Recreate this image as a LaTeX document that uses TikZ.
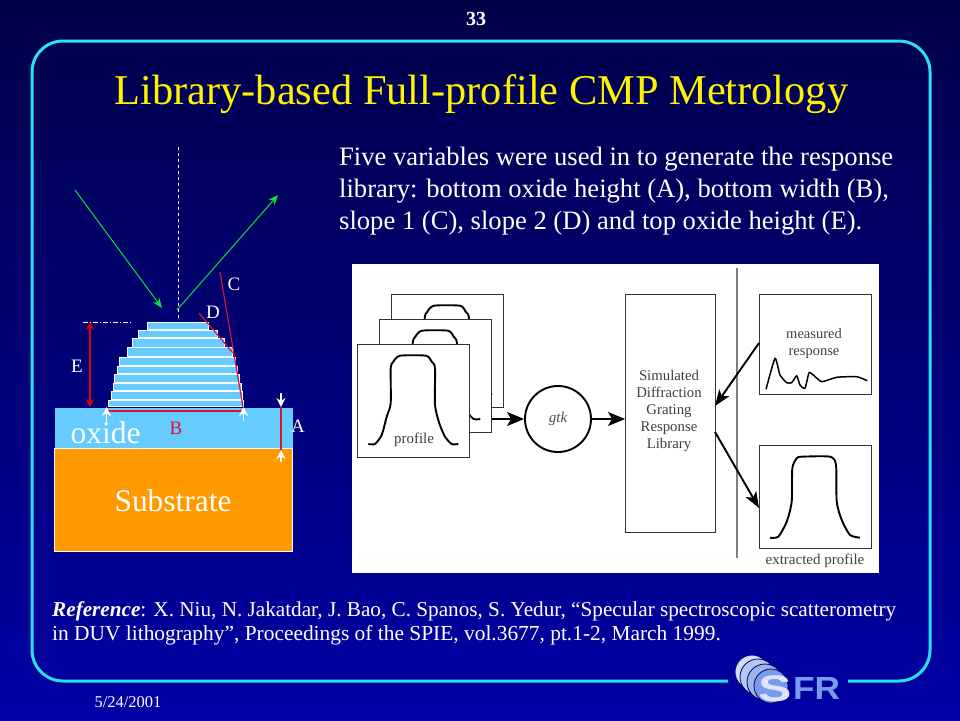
\documentclass[tikz,border=0pt]{standalone}
\usepackage{fontspec}
\setmainfont{Liberation Serif}
\newfontfamily\logofont{Liberation Sans}
\usetikzlibrary{arrows.meta}
\definecolor{framecyan}{RGB}{40,225,245}
\definecolor{oxideblue}{RGB}{102,204,255}
\definecolor{subsorange}{RGB}{255,153,0}
\definecolor{redline}{RGB}{215,20,60}
\definecolor{raygreen}{RGB}{0,230,60}
\definecolor{bgtop}{RGB}{0,0,72}
\definecolor{bgbottom}{RGB}{0,0,165}
\definecolor{logoblue}{RGB}{120,155,235}
\newcommand{\pxfont}[1]{\fontsize{#1}{#1}\selectfont}
\begin{document}
\begin{tikzpicture}
	[	x=1pt,y=-1pt,
	txt/.style={text=white,inner sep=0pt,anchor=base west,font=\pxfont{26.6}},
	lbl/.style={text=white,inner sep=0pt,font=\pxfont{19}},
	layer/.style={draw=white,fill=oxideblue,line width=1pt,inner sep=0pt,anchor=north west},
	redarrow/.style={draw=red!90!black,line width=1.2pt,{Stealth[length=8pt,width=8pt]}-{Stealth[length=8pt,width=8pt]}},
	redline/.style={draw=redline,line width=1.2pt},
	ray/.style={draw=raygreen,line width=1pt,-{Stealth[length=10pt,width=8pt]}},
	whitearrow/.style={draw=white,line width=1.3pt,-{Stealth[length=9pt,width=9pt]}},
	blackbox/.style={draw=black!80,line width=1.2pt,fill=white,inner sep=0pt,anchor=north west},
	flow/.style={draw=black,line width=1.4pt,-{Stealth[length=17pt,width=14pt,inset=4pt]}},
	slant/.style={draw=black,line width=1.9pt,-{Stealth[length=16pt,width=12pt,inset=4pt]}},
	curve/.style={draw=black,line width=1.9pt,line join=round},
	small/.style={text=black!75,inner sep=0pt,font=\pxfont{15}},
	logoring/.style={draw=bgbottom!60!black,line width=.8pt}
	]
	\useasboundingbox (0,0) rectangle (960,720);
	\shade[top color=bgtop,bottom color=bgbottom] (0,0) rectangle (960,720);

	% frame, open at the logo
	\draw[framecyan,line width=3pt,rounded corners=31pt]
		(728,681) -- (32,681) -- (32,41) -- (930,41) -- (930,681) -- (848,681);

	\node[font=\pxfont{20}\bfseries,text=white,inner sep=0pt] (pagenum) at (476,19) {33};
	\node[font=\pxfont{16.5},text=white,inner sep=0pt] (datelbl) at (128,702) {5/24/2001};
	\node[font=\pxfont{42.4},text=yellow,inner sep=0pt] (title) at (481.5,94) {Library-based Full-profile CMP Metrology};

	\node[txt] (para1) at (339,165) {Five variables were used in to generate the response};
	\node[txt] (para2) at (339,197) {library: bottom oxide height (A), bottom width (B),};
	\node[txt] (para3) at (339,229) {slope 1 (C), slope 2 (D) and top oxide height (E).};

	% left picture
	\node[layer,draw=none,minimum width=238pt,minimum height=41pt] (oxide) at (54.5,407) {};
	\node[layer,fill=subsorange,minimum width=238pt,minimum height=103pt] (subs) at (54,448) {};
	\node[text=white,inner sep=0pt,font=\pxfont{31.5}] (oxidelbl) at (105.5,433) {oxide};
	\node[text=white,inner sep=0pt,font=\pxfont{31.4}] (subslbl) at (173,501) {Substrate};

	\foreach \nm/\xa/\ya/\lw/\lh in {l1/146.5/322/61.5/7,l2/138/330/79/7,l3/132/338/92/9,l4/127/347/105/9,
		l5/119/357/116/8,l6/117/366/120/7,l7/114/374/125/8,l8/113/383/128/7,l9/111/391/131/8,l10/108/400/135/6}
		\node[layer,minimum width=\lw pt,minimum height=\lh pt] (\nm) at (\xa,\ya) {};

	\coordinate (rayin) at (75,190);
	\coordinate (rayinend) at (162,308);
	\coordinate (rayout) at (177,310);
	\coordinate (rayoutend) at (278,195);
	\draw[ray] (rayin) -- (rayinend);
	\draw[ray] (rayout) -- (rayoutend);

	\coordinate (normaltop) at (178.5,147);
	\coordinate (normalend) at (178.5,320);
	\draw[white,dashed,line width=.9pt] (normaltop) -- (normalend);
	\coordinate (toplevela) at (83,322);
	\coordinate (toplevelb) at (132,322);
	\draw[white,dash pattern=on 5pt off 2pt on 1pt off 2pt,line width=.9pt] (toplevela) -- (toplevelb);

	\coordinate (etop) at (90,322);
	\coordinate (ebot) at (90,407);
	\draw[redarrow] (etop) -- (ebot);

	\coordinate (ca) at (220,272);
	\coordinate (cb) at (243,407);
	\draw[redline] (ca) -- (cb);
	\coordinate (da) at (199,313);
	\coordinate (db) at (233,353);
	\draw[redline] (da) -- (db);
	\coordinate (ba) at (108,411);
	\coordinate (bb) at (243,411);
	\draw[redline] (ba) -- (bb);

	\coordinate (wla) at (106.5,422);
	\coordinate (wlb) at (106.5,407);
	\draw[whitearrow] (wla) -- (wlb);
	\coordinate (wra) at (243.5,421);
	\coordinate (wrb) at (243.5,407);
	\draw[whitearrow] (wra) -- (wrb);

	\coordinate (aa) at (281,393);
	\coordinate (ab) at (281,407);
	\coordinate (ac) at (281,450);
	\coordinate (ad) at (281,462);
	\draw[whitearrow] (aa) -- (ab);
	\draw[redline] (ab) -- (ac);
	\draw[whitearrow] (ad) -- (ac);

	\node[lbl] (clbl) at (234,284) {C};
	\node[lbl] (dlbl) at (213,312) {D};
	\node[lbl] (elbl) at (77,366) {E};
	\node[lbl,text=redline] (blbl) at (176,428) {B};
	\node[lbl] (albl) at (298,426) {A};

	% white panel
	\node[fill=white,inner sep=0pt,anchor=north west,minimum width=527pt,minimum height=309pt] (panel) at (352,264) {};

	\foreach \nm/\xa/\ya in {profback/391/294,profmid/379/319,proffront/357/344}{
		\node[blackbox,minimum width=112pt,minimum height=113pt] (\nm) at (\xa,\ya) {};
		\draw[curve,shift={(\xa,\ya)}] plot[smooth,tension=.4] coordinates
			{(11.3,100) (18,100) (24.7,91) (29.7,72.7) (33.7,59.3) (33.7,24.3) (36.3,17.7) (43,11.7) (69,11.7) (74.7,17.7) (78,24.3) (78,61) (82.3,79.3) (88,92.7) (94.7,100) (101.3,100)};
	}
	\node[small] (proflbl) at (414,440) {profile};

	\node[draw=black,line width=1.9pt,circle,minimum size=66pt,inner sep=0pt,fill=white,font=\pxfont{15}\itshape,text=black!70] (gtk) at (558,419) {gtk};
	\node[blackbox,minimum width=90pt,minimum height=238pt] (library) at (625,294) {};
	\node[small,align=center,font=\fontsize{14.8}{17}\selectfont] (librarylbl) at (669,411) {Simulated\\Diffraction\\Grating\\Response\\Library};

	\coordinate (midout) at (492,419);
	\draw[flow] (midout) -- (gtk.west);
	\draw[flow] (gtk.east) -- (library.west |- gtk.east);

	\coordinate (sepa) at (737,268);
	\coordinate (sepb) at (737,558);
	\draw[black!50,line width=1.2pt] (sepa) -- (sepb);

	\node[blackbox,minimum width=112pt,minimum height=100pt] (measured) at (759,294) {};
	\node[small,align=center,font=\fontsize{14.5}{17}\selectfont] (measuredlbl) at (814,344) {measured\\response};
	\draw[curve,line width=1.5pt,shift={(759,294)}] plot[smooth,tension=.3] coordinates
		{(7,95.3) (16,64.3) (21,81) (27.7,88.7) (32.7,88.7) (37.7,81.7) (41,91) (46,94.3) (50,78.7) (54.3,81) (62.7,87.7) (77.7,83.3) (97.7,82.7) (108.3,86.7)};

	\node[blackbox,minimum width=112pt,minimum height=103pt] (extracted) at (759,445) {};
	\draw[curve,shift={(759,445)}] plot[smooth,tension=.4] coordinates
		{(11,92.7) (19.3,91.7) (27.7,76.7) (32.7,56.7) (33.3,23.3) (37.7,13.3) (42.7,11.7) (71,11.7) (77,20) (77.7,56.7) (82.7,75) (91,90) (101,92.7)};
	\node[small] (extractedlbl) at (815,561) {extracted profile};

	\coordinate (libin) at (715,406);
	\coordinate (libout) at (715,432);
	\coordinate (measout) at (759,343);
	\coordinate (extin) at (759,508);
	\draw[slant] (measout) -- (libin);
	\draw[slant] (libout) -- (extin);

	% logo
	\filldraw[logoring,fill=logoblue!35] (752,672) circle (17pt);
	\filldraw[logoring,fill=logoblue!55] (758,677) circle (18pt);
	\filldraw[logoring,fill=logoblue!75] (765,682) circle (18pt);
	\filldraw[logoring,fill=logoblue] (771,686) circle (17pt);
	\node[inner sep=0pt,font=\logofont\pxfont{37}\bfseries,text=blue!12!white] (logos) at (775,689) {\scalebox{1.35}[1]{S}};
	\node[inner sep=0pt,anchor=west,font=\logofont\pxfont{32}\bfseries,text=logoblue] (logofr) at (793,688.5) {\scalebox{1.1}[1]{FR}};

	\node[inner sep=0pt,anchor=base west,text=white,font=\pxfont{21.2}] (ref1) at (52,616) {\textbf{\textit{Reference}}: X. Niu, N. Jakatdar, J. Bao, C. Spanos, S. Yedur, “Specular spectroscopic scatterometry};
	\node[inner sep=0pt,anchor=base west,text=white,font=\pxfont{21.4}] (ref2) at (52,640) {in DUV lithography”, Proceedings of the SPIE, vol.3677, pt.1-2, March 1999.};
\end{tikzpicture}
\end{document}
